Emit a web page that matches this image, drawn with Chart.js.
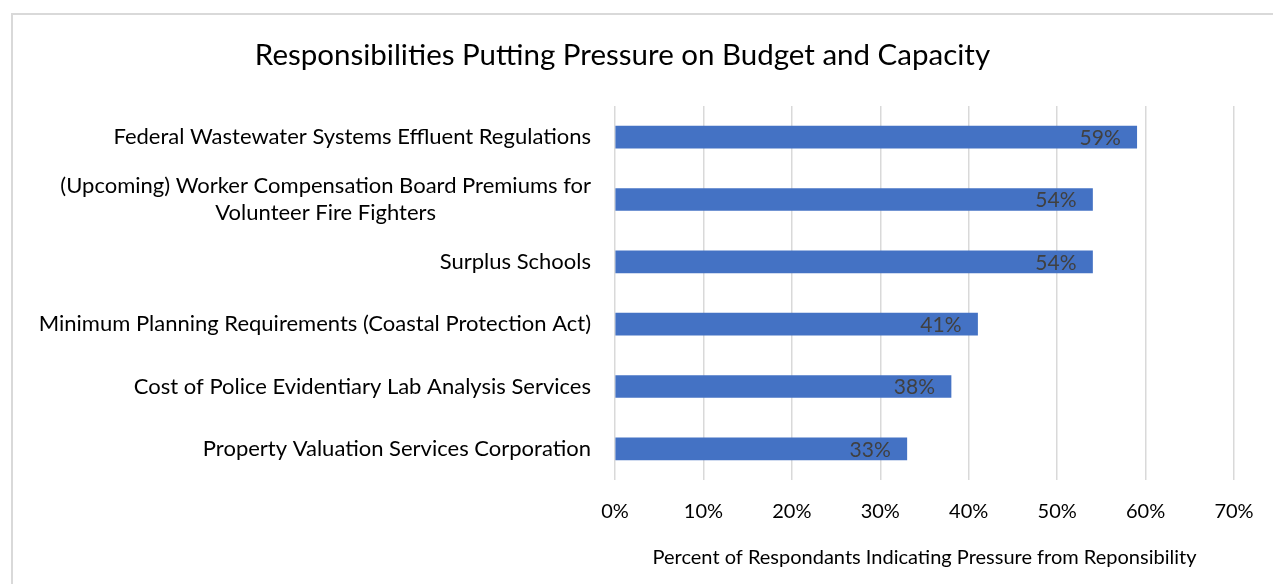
<!DOCTYPE html>
<html>
<head>
<meta charset="utf-8">
<script src="https://cdn.jsdelivr.net/npm/chart.js@4.4.0/dist/chart.umd.min.js"></script>
<style>
  html, body { margin: 0; padding: 0; background: #fff; overflow: hidden; }
  #frame { position: absolute; left: 11px; top: 13px; width: 1300px; height: 600px;
           border-left: 2px solid #d9d9d9; border-top: 2px solid #d9d9d9; }
  #wrap { position: absolute; left: 11px; top: 0; width: 1274px; height: 584px; }
</style>
</head>
<body>
<div id="frame"></div>
<div id="wrap"><canvas id="chart" width="1274" height="584"></canvas></div>
<script>
// Catégories (de haut en bas) et valeurs en %
const categories = [
    ['Federal Wastewater Systems Effluent Regulations'],
    ['(Upcoming) Worker Compensation Board Premiums for', 'Volunteer Fire Fighters'],
    ['Surplus Schools'],
    ['Minimum Planning Requirements (Coastal Protection Act)'],
    ['Cost of Police Evidentiary Lab Analysis Services'],
    ['Property Valuation Services Corporation']
];
const values = [59, 54, 54, 41, 38, 33];
const xTicks = [0, 10, 20, 30, 40, 50, 60, 70];

const FONT = 'Lato, "Open Sans", sans-serif';

// Étiquettes de catégories (lignes centrées entre elles, bloc aligné à droite)
const categoryLabels = {
    id: 'categoryLabels',
    afterDraw(chart) {
        const ctx = chart.ctx;
        const yScale = chart.scales.y;
        const right = chart.chartArea.left - 24;
        ctx.save();
        ctx.font = '22px ' + FONT;
        ctx.fillStyle = '#000';
        ctx.textBaseline = 'middle';
        ctx.textAlign = 'center';
        const lineH = 27;
        categories.forEach((lines, i) => {
            const cy = yScale.getPixelForValue(i);
            const widths = lines.map(l => ctx.measureText(l).width);
            const maxW = Math.max(...widths);
            const cx = right - maxW / 2;
            lines.forEach((l, j) => {
                const y = cy + (j - (lines.length - 1) / 2) * lineH;
                ctx.fillText(l, cx, y);
            });
        });
        ctx.restore();
    }
};

// Étiquettes de valeurs à l'intérieur des barres
const valueLabels = {
    id: 'valueLabels',
    afterDatasetsDraw(chart) {
        const ctx = chart.ctx;
        const meta = chart.getDatasetMeta(0);
        ctx.save();
        ctx.font = '21px ' + FONT;
        ctx.fillStyle = '#404040';
        ctx.textAlign = 'right';
        ctx.textBaseline = 'middle';
        meta.data.forEach((bar, i) => {
            ctx.fillText(values[i] + '%', bar.x - 16, bar.y + 1);
        });
        ctx.restore();
    }
};

const ctx = document.getElementById('chart').getContext('2d');
new Chart(ctx, {
    type: 'bar',
    data: {
        labels: categories.map(c => c.join(' ')),
        datasets: [{
            data: values,
            backgroundColor: '#4472C4',
            barThickness: 22
        }]
    },
    options: {
        indexAxis: 'y',
        responsive: false,
        animation: false,
        layout: { padding: { left: 0, right: 51, top: 0, bottom: 0 } },
        plugins: {
            legend: { display: false },
            tooltip: { enabled: false },
            title: {
                display: true,
                text: 'Responsibilities Putting Pressure on Budget and Capacity',
                color: '#000',
                font: { family: FONT, size: 29.5, weight: 'normal' },
                padding: { top: 38, bottom: 32.6 }
            }
        },
        scales: {
            x: {
                min: 0,
                max: 70,
                afterBuildTicks: scale => { scale.ticks = xTicks.map(v => ({ value: v })); },
                ticks: {
                    callback: v => v + '%',
                    color: '#000',
                    font: { family: FONT, size: 20 },
                    padding: 20
                },
                grid: { color: '#d9d9d9', lineWidth: 1.5, drawTicks: false },
                border: { display: false },
                title: {
                    display: true,
                    text: 'Percent of Respondants Indicating Pressure from Reponsibility',
                    color: '#000',
                    font: { family: FONT, size: 20 },
                    padding: { top: 0, bottom: 14 }
                },
                afterFit: scale => { scale.height = 104; }
            },
            y: {
                ticks: { display: false },
                grid: { display: false },
                border: { display: false },
                afterFit: scale => { scale.width = 604; }
            }
        }
    },
    plugins: [categoryLabels, valueLabels]
});
</script>
</body>
</html>
